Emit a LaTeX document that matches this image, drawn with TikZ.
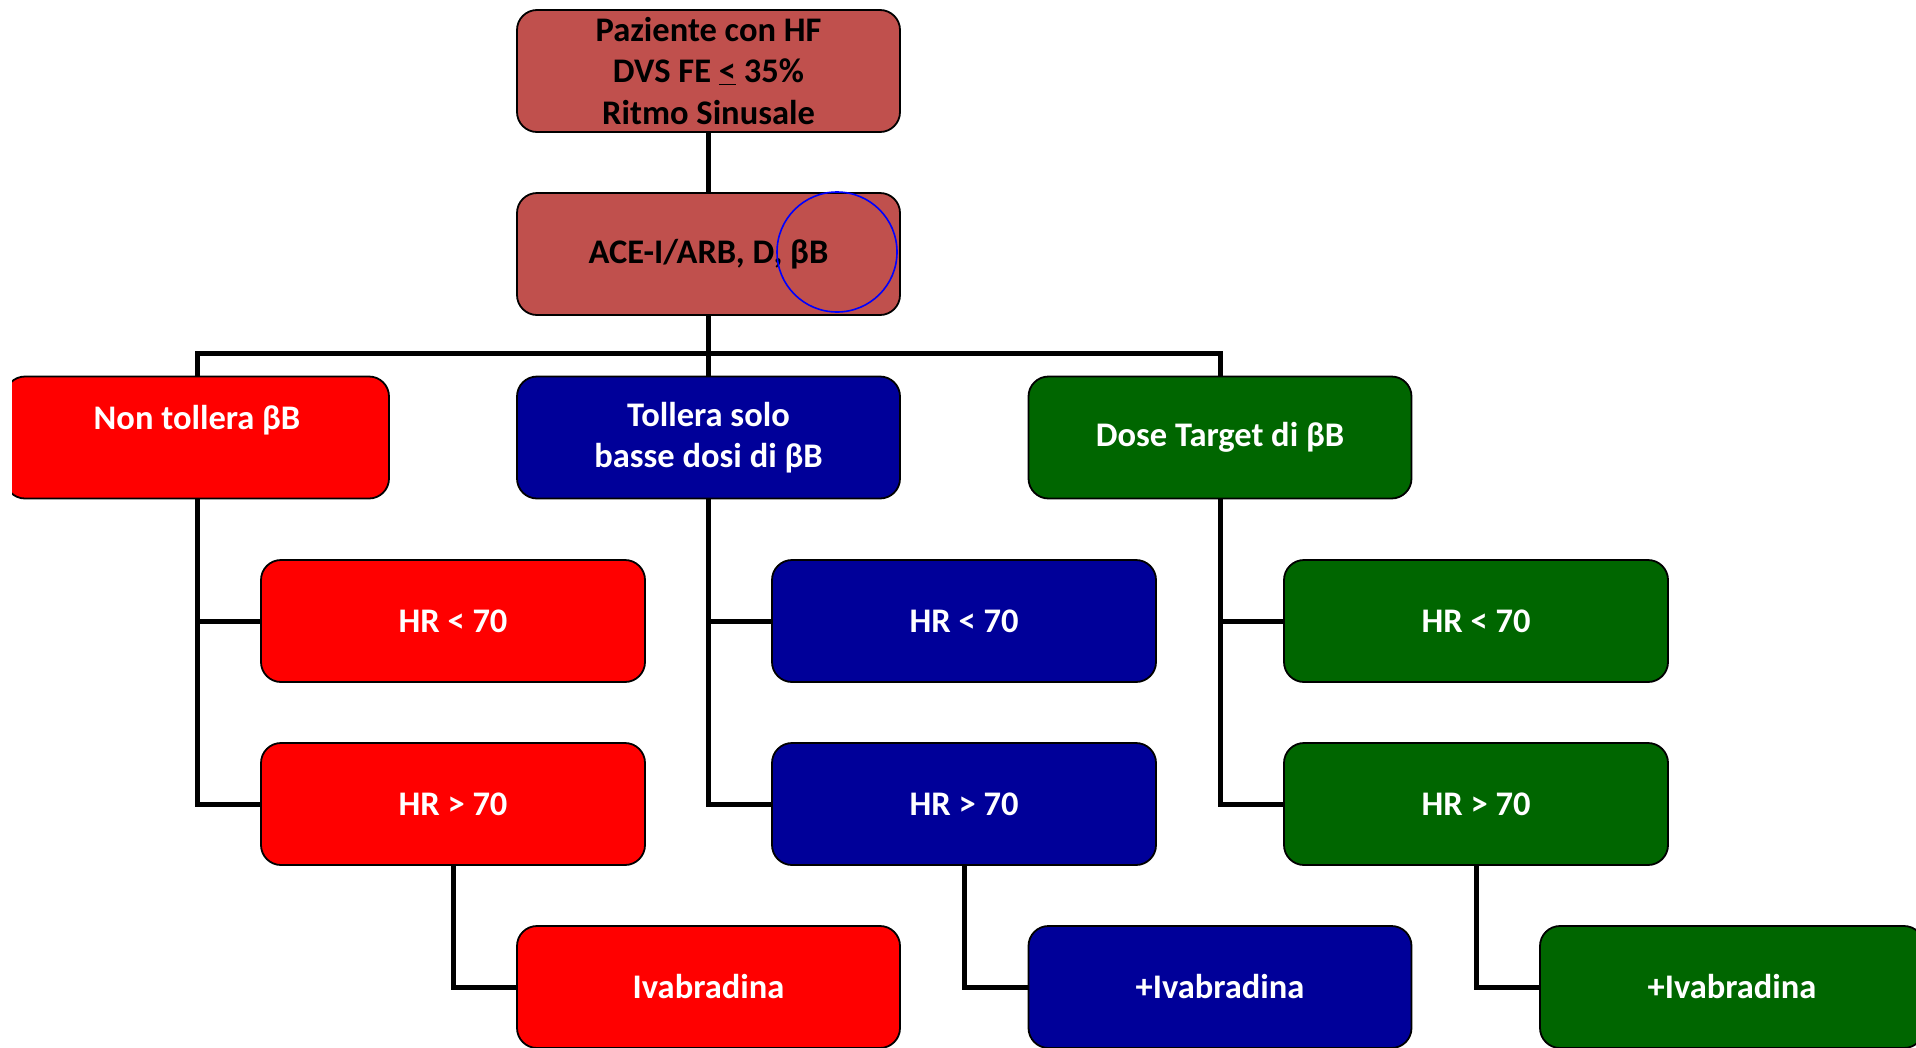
\documentclass[tikz,border=0pt]{standalone}
\usepackage{fontspec}
\setmainfont{Carlito}
\definecolor{brick}{HTML}{C0504D}
\definecolor{redbox}{HTML}{FF0000}
\definecolor{bluebox}{HTML}{000099}
\definecolor{greenbox}{HTML}{006600}
\begin{document}
\begin{tikzpicture}[x=1pt,y=-1pt,
  box/.style={rectangle, rounded corners=20pt, draw=black, line width=1.8pt,
    minimum width=384pt, minimum height=122pt, inner sep=0pt, align=center,
    text=white, font=\fontsize{34.5}{41}\selectfont\bfseries},
  headbox/.style={box, fill=brick, text=black, font=\fontsize{34.5}{41.5}\selectfont\bfseries},
  redb/.style={box, fill=redbox},
  blueb/.style={box, fill=bluebox},
  greenb/.style={box, fill=greenbox},
  link/.style={line width=5pt, draw=black}]
\useasboundingbox (0,0) rectangle (1916,1047);
\begin{scope}
\clip (12,-5) rectangle (1916,1047);

% header boxes
\node[headbox, minimum width=383pt] (top) at (708.5,71)
  {Paziente con HF\\DVS FE \underline{<} 35\%\\Ritmo Sinusale};
\node[headbox, minimum width=383pt] (ace) at (708.5,254) {ACE-I/ARB, D, βB};

% first level
\node[redb] (p1) at (197,437.5) {Non tollera βB\\\mbox{}};
\node[blueb, minimum width=383pt] (p2) at (708.5,437.5) {Tollera solo\\basse dosi di βB};
\node[greenb, minimum width=383pt] (p3) at (1220,437.5) {Dose Target di βB};

% heart-rate boxes
\node[redb] (l1) at (453,621) {HR < 70};
\node[redb] (l2) at (453,804) {HR > 70};
\node[blueb] (m1) at (964,621) {HR < 70};
\node[blueb] (m2) at (964,804) {HR > 70};
\node[greenb] (r1) at (1476,621) {HR < 70};
\node[greenb] (r2) at (1476,804) {HR > 70};

% therapy boxes
\node[redb, minimum width=383pt] (l3) at (708.5,987) {Ivabradina};
\node[blueb, minimum width=383pt] (m3) at (1220,987) {+Ivabradina};
\node[greenb] (r3) at (1732,987) {+Ivabradina};

% level of the horizontal bus under the therapy box
\coordinate (bus) at (708.5,353);

% connectors
\draw[link] (top) -- (ace);
\draw[link] (ace) -- (p2);
\draw[link] (p1.north) -- (p1.north |- bus) -- (p3.north |- bus) -- (p3.north);
\foreach \pa/\lo/\hi/\ther in {p1/l1/l2/l3, p2/m1/m2/m3, p3/r1/r2/r3}{
  \draw[link] (\pa.south) |- (\hi.west);
  \draw[link] (\pa.south |- \lo.west) -- (\lo.west);
  \draw[link] (\hi.south) |- (\ther.west);
}

% hand-drawn highlight ring
\node[circle, draw=blue, line width=1.6pt, minimum size=120pt, inner sep=0pt] (ring) at (837,252) {};
\end{scope}
\end{tikzpicture}
\end{document}
